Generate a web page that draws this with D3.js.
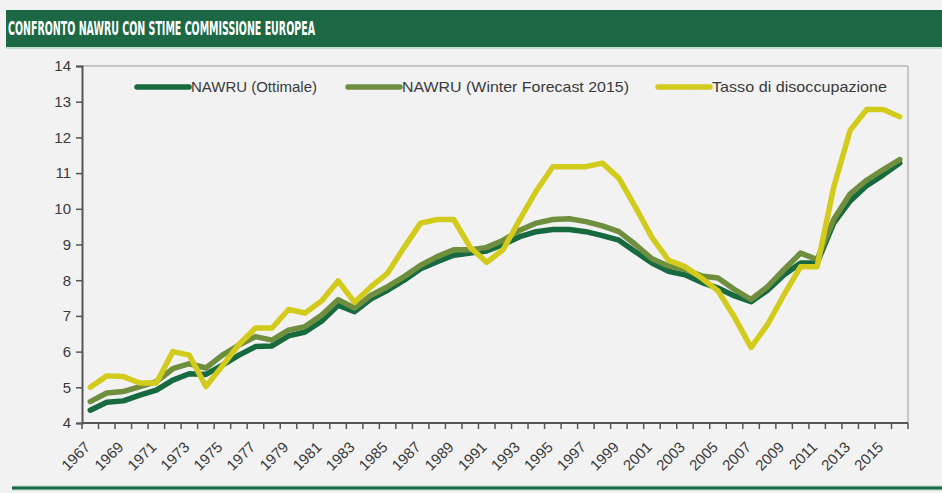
<!DOCTYPE html>
<html>
<head>
<meta charset="utf-8">
<script src="https://cdn.jsdelivr.net/npm/d3@7"></script>
<style>
    body { margin: 0; background: #f2f2f2; }
    svg { display: block; }
</style>
</head>
<body>
<div id="chart"></div>
<script>
const years = d3.range(1967, 2017);

const nawruOttimale = [
    4.36, 4.58, 4.62, 4.78, 4.92, 5.2, 5.38, 5.36, 5.62, 5.9,
    6.14, 6.16, 6.44, 6.55, 6.85, 7.3, 7.12, 7.48, 7.72, 8.0,
    8.32, 8.52, 8.7, 8.76, 8.82, 9.0, 9.22, 9.36, 9.42, 9.42,
    9.36, 9.25, 9.12, 8.8, 8.48, 8.25, 8.15, 7.94, 7.78, 7.56,
    7.4, 7.72, 8.15, 8.48, 8.48, 9.6, 10.22, 10.65, 10.95, 11.28
];
const nawruWinter = [
    4.6, 4.84, 4.88, 5.02, 5.16, 5.52, 5.66, 5.54, 5.9, 6.18,
    6.42, 6.32, 6.6, 6.7, 7.02, 7.45, 7.22, 7.58, 7.82, 8.1,
    8.42, 8.66, 8.85, 8.85, 8.92, 9.12, 9.4, 9.6, 9.7, 9.72,
    9.64, 9.52, 9.36, 9.0, 8.6, 8.4, 8.3, 8.12, 8.06, 7.74,
    7.46, 7.82, 8.3, 8.76, 8.58, 9.7, 10.42, 10.8, 11.1, 11.38
];
const tasso = [
    5.0, 5.32, 5.3, 5.12, 5.12, 6.0, 5.9, 5.02, 5.6, 6.2,
    6.66, 6.66, 7.18, 7.08, 7.42, 7.98, 7.38, 7.82, 8.2, 8.92,
    9.6, 9.7, 9.7, 8.92, 8.5, 8.86, 9.7, 10.5, 11.18, 11.18,
    11.18, 11.28, 10.86, 10.05, 9.2, 8.56, 8.38, 8.06, 7.7, 6.96,
    6.12, 6.76, 7.6, 8.38, 8.38, 10.6, 12.2, 12.78, 12.78, 12.58
];
const yTicks = [4, 5, 6, 7, 8, 9, 10, 11, 12, 13, 14];

const series = [
    { name: "NAWRU (Ottimale)", values: nawruOttimale, color: "#17693f" },
    { name: "NAWRU (Winter Forecast 2015)", values: nawruWinter, color: "#6f8e3e" },
    { name: "Tasso di disoccupazione", values: tasso, color: "#d2cb1c" }
];

const width = 942, height = 493;
const plot = { left: 82, right: 908, top: 66, bottom: 423 };

const svg = d3.select("#chart").append("svg")
    .attr("width", width)
    .attr("height", height);

svg.append("rect").attr("width", width).attr("height", height).attr("fill", "#f2f2f2");

// title bar
svg.append("rect")
    .attr("x", 6).attr("y", 10).attr("width", width - 6).attr("height", 38)
    .attr("fill", "#1c6744");
svg.append("rect")
    .attr("x", 6).attr("y", 47).attr("width", width - 6).attr("height", 2)
    .attr("fill", "#bfe0cd");
svg.append("text")
    .attr("x", 8).attr("y", 35)
    .attr("fill", "#ffffff")
    .attr("font-family", "'DejaVu Sans Condensed', 'DejaVu Sans', sans-serif")
    .attr("font-weight", "bold")
    .attr("font-stretch", "condensed")
    .attr("font-size", 19)
    .attr("textLength", 307)
    .attr("lengthAdjust", "spacingAndGlyphs")
    .text("CONFRONTO NAWRU CON STIME COMMISSIONE EUROPEA");

// bottom rule
svg.append("rect").attr("x", 12).attr("y", 485).attr("width", width - 12).attr("height", 6).attr("fill", "#cfe6d8");
svg.append("rect").attr("x", 12).attr("y", 486.5).attr("width", width - 12).attr("height", 3).attr("fill", "#1c6744");

const x = d3.scaleBand().domain(years).range([plot.left, plot.right]).padding(0);
const y = d3.scaleLinear().domain([4, 14]).range([plot.bottom, plot.top]);

// plot frame (top and right)
svg.append("path")
    .attr("d", "M" + plot.left + "," + plot.top + "H" + plot.right + "V" + plot.bottom)
    .attr("fill", "none")
    .attr("stroke", "#9a9a9a")
    .attr("stroke-width", 1);

// y axis
const yAxis = svg.append("g")
    .attr("transform", "translate(" + plot.left + ",0)")
    .call(d3.axisLeft(y).tickValues(yTicks).tickSize(6).tickPadding(5).tickFormat(d3.format("d")));
yAxis.select(".domain").attr("stroke", "#555").attr("stroke-width", 2);
yAxis.selectAll(".tick line").attr("stroke", "#555").attr("stroke-width", 1.5);
yAxis.selectAll(".tick text")
    .attr("fill", "#3a3a3a")
    .attr("font-family", "'Liberation Sans', Arial, sans-serif")
    .attr("font-size", 15);

// x axis: ticks between categories, labels on every other year
const xAxis = svg.append("g").attr("transform", "translate(0," + plot.bottom + ")");
xAxis.append("line")
    .attr("x1", plot.left).attr("x2", plot.right)
    .attr("stroke", "#555").attr("stroke-width", 2);
xAxis.selectAll(".xtick")
    .data(years.concat([null]))
    .enter().append("line")
    .attr("class", "xtick")
    .attr("x1", d => d === null ? plot.right : x(d))
    .attr("x2", d => d === null ? plot.right : x(d))
    .attr("y1", 0).attr("y2", 6)
    .attr("stroke", "#555").attr("stroke-width", 1.5);
xAxis.selectAll(".xlabel")
    .data(years.filter(d => (d - 1967) % 2 === 0))
    .enter().append("text")
    .attr("class", "xlabel")
    .attr("transform", d => "translate(" + (x(d) + x.bandwidth() / 2 + 1) + ",25) rotate(-45)")
    .attr("text-anchor", "end")
    .attr("fill", "#3a3a3a")
    .attr("font-family", "'Liberation Sans', Arial, sans-serif")
    .attr("font-size", 15)
    .text(d => d);

// lines
const line = d3.line()
    .x((d, i) => x(years[i]) + x.bandwidth() / 2)
    .y(d => y(d));

svg.selectAll(".series")
    .data(series)
    .enter().append("path")
    .attr("class", "series")
    .attr("d", d => line(d.values))
    .attr("fill", "none")
    .attr("stroke", d => d.color)
    .attr("stroke-width", 5.5)
    .attr("stroke-linejoin", "round")
    .attr("stroke-linecap", "round");

// legend
const legendX = [137, 348, 658];
const legendTextWidth = [126, 227, 175];
const legend = svg.selectAll(".legend")
    .data(series)
    .enter().append("g")
    .attr("class", "legend")
    .attr("transform", (d, i) => "translate(" + legendX[i] + ",87)");
legend.append("line")
    .attr("x1", 0).attr("x2", 52)
    .attr("stroke", d => d.color)
    .attr("stroke-width", 5.5)
    .attr("stroke-linecap", "round");
legend.append("text")
    .attr("x", 54)
    .attr("dy", "0.35em")
    .attr("fill", "#3a3a3a")
    .attr("font-family", "'Liberation Sans', Arial, sans-serif")
    .attr("font-size", 14.5)
    .attr("textLength", (d, i) => legendTextWidth[i])
    .attr("lengthAdjust", "spacingAndGlyphs")
    .text(d => d.name);
</script>
</body>
</html>
